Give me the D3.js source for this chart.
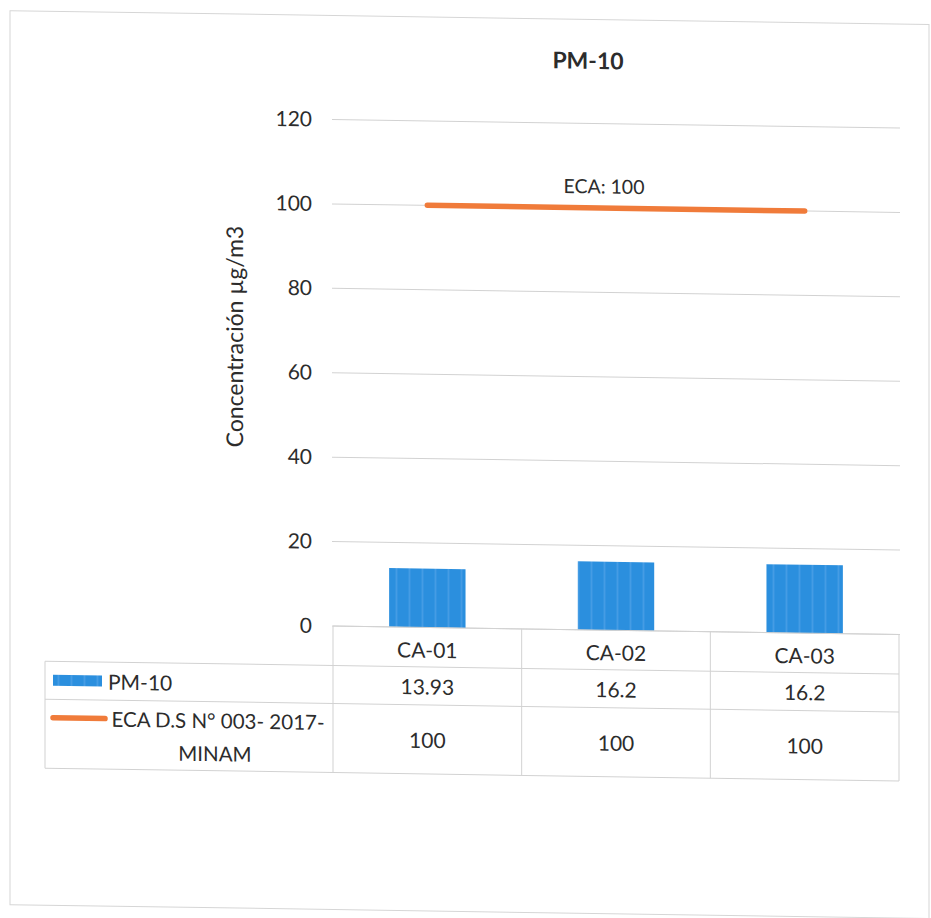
<!DOCTYPE html>
<html>
<head>
<meta charset="utf-8">
<script src="https://cdn.jsdelivr.net/npm/d3@7"></script>
<style>
  html, body { margin: 0; padding: 0; background: #ffffff; }
  svg { display: block; font-family: Lato, "Open Sans", "Liberation Sans", sans-serif; }
</style>
</head>
<body>
<svg id="chart" width="931" height="918"></svg>
<script>
// PM-10 concentrations per sampling station, with the ECA standard
const categories = ["CA-01", "CA-02", "CA-03"];
const pm10Values = [13.93, 16.2, 16.2];
const ecaValues = [100, 100, 100];
const yTickValues = [0, 20, 40, 60, 80, 100, 120];
const seriesNames = ["PM-10", "ECA D.S N° 003- 2017-", "MINAM"];
const chartTitle = "PM-10";
const yAxisTitle = "Concentración µg/m3";
const ecaLabel = "ECA: 100";

const textColor = "#2c2c2c";
const gridColor = "#d2d2d2";
const barColor = "#2b8fde";
const lineColor = "#f07b3a";

const svg = d3.select("#chart");

// bar texture: thin lighter vertical strokes
const defs = svg.append("defs");
const pat = defs.append("pattern")
  .attr("id", "barFill")
  .attr("patternUnits", "userSpaceOnUse")
  .attr("width", 13).attr("height", 10);
pat.append("rect").attr("width", 13).attr("height", 10).attr("fill", barColor);
pat.append("rect").attr("x", 6).attr("width", 1).attr("height", 10).attr("fill", "#5aa8ea");

// whole sheet sits slightly skewed
const root = svg.append("g")
  .attr("transform", "translate(465,0) skewY(0.86) translate(-465,0)");

// chart frame
root.append("rect")
  .attr("x", 10).attr("y", 17.5)
  .attr("width", 919).attr("height", 894)
  .attr("fill", "none").attr("stroke", "#d6d6d6").attr("stroke-width", 1);

const plotLeft = 333, plotRight = 899;
const x = d3.scaleBand().domain(categories).range([plotLeft, plotRight]).paddingInner(0).paddingOuter(0);
const y = d3.scaleLinear().domain([0, 120]).range([628, 121.5]);

// title
root.append("text")
  .attr("x", 588).attr("y", 67)
  .attr("text-anchor", "middle")
  .attr("font-size", 23).attr("font-weight", "bold")
  .attr("fill", textColor)
  .text(chartTitle);

// gridlines
root.append("g")
  .selectAll("line")
  .data(yTickValues)
  .join("line")
  .attr("x1", plotLeft - 1).attr("x2", plotRight + 1)
  .attr("y1", d => y(d)).attr("y2", d => y(d))
  .attr("stroke", gridColor).attr("stroke-width", 1);

// y axis tick labels
const yAxis = d3.axisLeft(y).tickValues(yTickValues).tickSize(0).tickPadding(0).tickFormat(d3.format("d"));
const yAxisG = root.append("g")
  .attr("transform", `translate(${312},0)`)
  .call(yAxis);
yAxisG.select(".domain").remove();
yAxisG.selectAll("text")
  .attr("font-family", "Lato, 'Open Sans', sans-serif")
  .attr("font-size", 21)
  .attr("fill", textColor);

// y axis title
root.append("text")
  .attr("transform", "translate(243,340) rotate(-90)")
  .attr("text-anchor", "middle")
  .attr("font-size", 23)
  .attr("fill", textColor)
  .text(yAxisTitle);

// bars
const barW = x.bandwidth() * 0.405;
root.append("g")
  .selectAll("rect")
  .data(categories.map((c, i) => ({ c, v: pm10Values[i] })))
  .join("rect")
  .attr("x", d => x(d.c) + x.bandwidth() / 2 - barW / 2)
  .attr("y", d => y(d.v))
  .attr("width", barW)
  .attr("height", d => y(0) - y(d.v))
  .attr("fill", "url(#barFill)");

// ECA line
const line = d3.line()
  .x((d, i) => x(categories[i]) + x.bandwidth() / 2)
  .y(d => y(d));
root.append("path")
  .datum(ecaValues)
  .attr("d", line)
  .attr("fill", "none")
  .attr("stroke", lineColor)
  .attr("stroke-width", 5.5)
  .attr("stroke-linecap", "round");

root.append("text")
  .attr("x", x(categories[1]) + x.bandwidth() / 2 - 12)
  .attr("y", y(ecaValues[1]) - 22)
  .attr("text-anchor", "middle")
  .attr("dominant-baseline", "central")
  .attr("font-size", 19.5)
  .attr("fill", textColor)
  .text(ecaLabel);

// data table
const rowY = [628, 667.5, 705.5, 774.5];
const legendLeft = 45;
const table = root.append("g").attr("stroke", gridColor).attr("stroke-width", 1).attr("fill", "none");
// horizontal rules
table.append("line").attr("x1", plotLeft).attr("x2", plotRight).attr("y1", rowY[0]).attr("y2", rowY[0]);
[rowY[1], rowY[2], rowY[3]].forEach(ry => {
  table.append("line").attr("x1", legendLeft).attr("x2", plotRight).attr("y1", ry).attr("y2", ry);
});
// vertical rules
const colEdges = categories.map(c => x(c)).concat([plotRight]);
colEdges.forEach(cx => {
  table.append("line").attr("x1", cx).attr("x2", cx).attr("y1", rowY[0]).attr("y2", rowY[3]);
});
table.append("line").attr("x1", legendLeft).attr("x2", legendLeft).attr("y1", rowY[1]).attr("y2", rowY[3]);

const cellText = root.append("g")
  .attr("font-size", 21)
  .attr("fill", textColor)
  .attr("text-anchor", "middle")
  .attr("dominant-baseline", "central");

categories.forEach((c, i) => {
  const cx = x(c) + x.bandwidth() / 2;
  cellText.append("text").attr("x", cx).attr("y", (rowY[0] + rowY[1]) / 2 + 2).text(c);
  cellText.append("text").attr("x", cx).attr("y", (rowY[1] + rowY[2]) / 2).text(pm10Values[i]);
  cellText.append("text").attr("x", cx).attr("y", (rowY[2] + rowY[3]) / 2).text(ecaValues[i]);
});

// legend keys in the table
const r1 = (rowY[1] + rowY[2]) / 2;
root.append("rect")
  .attr("x", 53).attr("y", r1 - 5.5)
  .attr("width", 49).attr("height", 11)
  .attr("fill", "url(#barFill)");
root.append("text")
  .attr("x", 108).attr("y", r1)
  .attr("dominant-baseline", "central")
  .attr("font-size", 21).attr("fill", textColor)
  .text(seriesNames[0]);

const r2a = 724, r2b = 757;
root.append("line")
  .attr("x1", 53).attr("x2", 105)
  .attr("y1", r2a).attr("y2", r2a)
  .attr("stroke", lineColor).attr("stroke-width", 5.5)
  .attr("stroke-linecap", "round");
root.append("text")
  .attr("x", 218).attr("y", r2a)
  .attr("text-anchor", "middle")
  .attr("dominant-baseline", "central")
  .attr("font-size", 20.5).attr("fill", textColor)
  .text(seriesNames[1]);
root.append("text")
  .attr("x", 215).attr("y", r2b)
  .attr("text-anchor", "middle")
  .attr("dominant-baseline", "central")
  .attr("font-size", 20.5).attr("fill", textColor)
  .text(seriesNames[2]);
</script>
</body>
</html>
